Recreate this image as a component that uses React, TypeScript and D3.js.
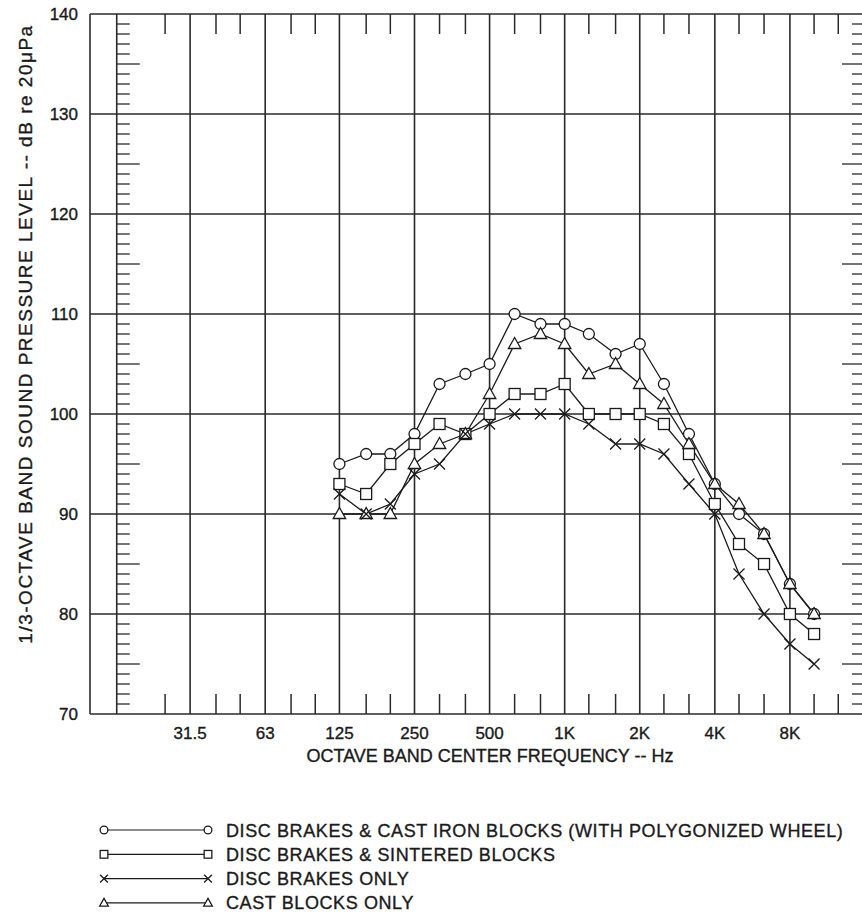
import React from "react";
import * as d3 from "d3";

const freqs = [125, 160, 200, 250, 315, 400, 500, 630, 800, 1000, 1250, 1600, 2000, 2500, 3150, 4000, 5000, 6300, 8000, 10000];
const castIron = [95, 96, 96, 98, 103, 104, 105, 110, 109, 109, 108, 106, 107, 103, 98, 93, 90, 88, 83, 80];
const sintered = [93, 92, 95, 97, 99, 98, 100, 102, 102, 103, 100, 100, 100, 99, 96, 91, 87, 85, 80, 78];
const discOnly = [92, 90, 91, 94, 95, 98, 99, 100, 100, 100, 99, 97, 97, 96, 93, 90, 84, 80, 77, 75];
const castOnly = [90, 90, 90, 95, 97, 98, 102, 107, 108, 107, 104, 105, 103, 101, 97, 93, 91, 88, 83, 80];

const octaveLines = [16, 31.5, 63, 125, 250, 500, 1000, 2000, 4000, 8000];
const octaveLabels = ["", "31.5", "63", "125", "250", "500", "1K", "2K", "4K", "8K"];
const thirdTicks = [25, 40, 50, 80, 100, 160, 200, 315, 400, 630, 800, 1250, 1600, 2500, 3150, 5000, 6300, 10000, 12500];
const yTicks = [70, 80, 90, 100, 110, 120, 130, 140];

const seriesNames = [
  "DISC BRAKES & CAST IRON BLOCKS (WITH POLYGONIZED WHEEL)",
  "DISC BRAKES & SINTERED BLOCKS",
  "DISC BRAKES ONLY",
  "CAST BLOCKS ONLY",
];
const seriesShapes = ["circle", "square", "x", "triangle"];

const W = 862;
const H = 912;
const left = 90;
const right = 865;
const top = 14;
const bottom = 714;
const FONT = "'Liberation Sans', Arial, Helvetica, sans-serif";
const INK = "#1a1a1a";
const GRID = "#2a2a2a";
const TS = 0.35;

function Marker({ shape, x, y, s = 1 }: { shape: string; x: number; y: number; s?: number }) {
  const sw = 1.3;
  if (shape === "circle") return <circle cx={x} cy={y} r={5.5 * s} fill="#fff" stroke={INK} strokeWidth={sw} />;
  if (shape === "square")
    return <rect x={x - 5.5 * s} y={y - 5.5 * s} width={11 * s} height={11 * s} fill="#fff" stroke={INK} strokeWidth={sw} />;
  if (shape === "triangle") {
    const p = [[x, y - 6.5 * s], [x + 6.2 * s, y + 4.5 * s], [x - 6.2 * s, y + 4.5 * s]];
    return <polygon points={p.map((q) => q.join(",")).join(" ")} fill="#fff" stroke={INK} strokeWidth={sw} />;
  }
  const d = 5.5 * s;
  return (
    <path d={`M${x - d},${y - d}L${x + d},${y + d}M${x - d},${y + d}L${x + d},${y - d}`} stroke={INK} strokeWidth={sw} fill="none" />
  );
}

export default function App() {
  const x = d3.scaleLog().domain([12.5, 16000]).range([left, right]);
  const y = d3.scaleLinear().domain([70, 140]).range([bottom, top]);
  const series = [castIron, sintered, discOnly, castOnly];
  const line = d3
    .line<number>()
    .x((_, i) => x(freqs[i]))
    .y((v) => y(v));
  const minor = d3.range(70, 141, 1).filter((v) => v % 10 !== 0);
  const drawOrder = [0, 1, 3, 2];

  return (
    <svg width={W} height={H} style={{ position: "absolute", left: 0, top: 0, background: "#fff" }} fontFamily={FONT}>
      <rect x={0} y={0} width={W} height={H} fill="#fff" />
      {yTicks.map((t) => (
        <line key={"h" + t} x1={left} x2={right} y1={y(t)} y2={y(t)} stroke={GRID} strokeWidth={1.6} />
      ))}
      {octaveLines.map((f) => (
        <line key={"v" + f} x1={x(f)} x2={x(f)} y1={top} y2={bottom} stroke={GRID} strokeWidth={1.6} />
      ))}
      <line x1={left} x2={left} y1={top} y2={bottom} stroke={GRID} strokeWidth={1.6} />
      <line x1={right} x2={right} y1={top} y2={bottom} stroke={GRID} strokeWidth={1.6} />
      {thirdTicks.map((f) => (
        <g key={"t" + f}>
          <line x1={x(f)} x2={x(f)} y1={top} y2={top + 20} stroke={GRID} strokeWidth={1.5} />
          <line x1={x(f)} x2={x(f)} y1={bottom} y2={bottom - 20} stroke={GRID} strokeWidth={1.5} />
        </g>
      ))}
      {minor.map((v) => {
        const len = v % 5 === 0 ? 23 : 13;
        return (
          <g key={"m" + v}>
            <line x1={x(16)} x2={x(16) + len} y1={y(v)} y2={y(v)} stroke={GRID} strokeWidth={1.3} />
            <line x1={right} x2={right - len} y1={y(v)} y2={y(v)} stroke={GRID} strokeWidth={1.3} />
          </g>
        );
      })}
      <g fill={INK} stroke={INK} strokeWidth={TS}>
        {yTicks.map((t) => (
          <text key={"yl" + t} x={78} y={y(t) + 6} textAnchor="end" fontSize={17}>
            {t}
          </text>
        ))}
        {octaveLines.map((f, i) => (
          <text key={"xl" + f} x={x(f)} y={739} textAnchor="middle" fontSize={17}>
            {octaveLabels[i]}
          </text>
        ))}
        <text x={490} y={762} textAnchor="middle" fontSize={18}>
          OCTAVE BAND CENTER FREQUENCY -- Hz
        </text>
        <text transform={`translate(32,${334}) rotate(-90)`} textAnchor="middle" fontSize={19} letterSpacing={1.5}>
          1/3-OCTAVE BAND SOUND PRESSURE LEVEL -- dB re 20μPa
        </text>
      </g>
      {series.map((s, i) => (
        <path key={"l" + i} d={line(s) || ""} fill="none" stroke={INK} strokeWidth={1.3} />
      ))}
      {drawOrder.map((si) =>
        series[si].map((v, i) => <Marker key={`mk${si}-${i}`} shape={seriesShapes[si]} x={x(freqs[i])} y={y(v)} />)
      )}
      {seriesNames.map((name, i) => {
        const ly = 830 + i * 24.3;
        return (
          <g key={"lg" + i}>
            <line x1={104} x2={208} y1={ly} y2={ly} stroke={INK} strokeWidth={1.2} />
            <Marker shape={seriesShapes[i]} x={104} y={ly} s={0.7} />
            <Marker shape={seriesShapes[i]} x={208} y={ly} s={0.7} />
            <text x={226} y={ly + 6.5} fontSize={18} letterSpacing={0.6} fill={INK} stroke={INK} strokeWidth={TS}>
              {name}
            </text>
          </g>
        );
      })}
    </svg>
  );
}
